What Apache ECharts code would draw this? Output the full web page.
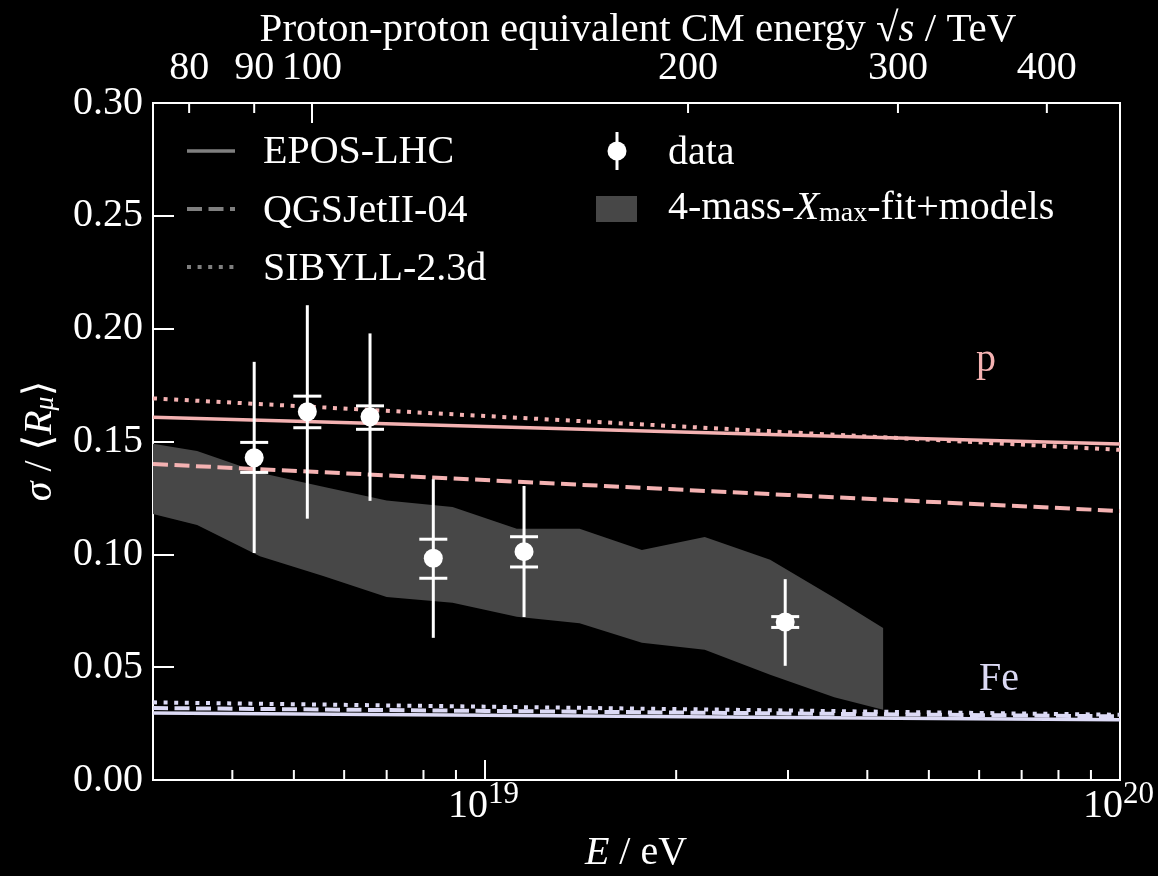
<!DOCTYPE html>
<html><head><meta charset="utf-8">
<script src="https://cdn.jsdelivr.net/npm/echarts@6/dist/echarts.min.js"></script>
<style>html,body{margin:0;padding:0;background:#000;}#c{width:1158px;height:876px;}</style>
</head><body><div id="c"></div>
<script>
const FONT = '"Liberation Serif","DejaVu Serif",serif';
const PINK = '#f4b2b2';
const LAV = '#dcdaf5';
const GREY = '#7f7f7f';

// ---- data points (energy in eV) ----
const dataE  = [4.33e18, 5.25e18, 6.59e18, 8.29e18, 1.152e19, 2.97e19];
const dataY  = [0.1428, 0.1632, 0.1610, 0.0983, 0.1012, 0.0700];
const statLo = [0.1006, 0.1158, 0.1237, 0.0630, 0.0722, 0.0506];
const statHi = [0.1853, 0.2104, 0.1979, 0.1333, 0.1303, 0.0890];
const sysLo  = [0.1363, 0.1561, 0.1554, 0.0894, 0.0944, 0.0676];
const sysHi  = [0.1496, 0.1701, 0.1658, 0.1067, 0.1078, 0.0724];

// ---- 4-mass-Xmax-fit + models band ----
const bandE  = [3.0e18, 3.52e18, 4.42e18, 5.56e18, 7.00e18, 8.89e18, 1.122e19, 1.409e19, 1.766e19, 2.218e19, 2.812e19, 3.548e19, 4.236e19];
const bandHi = [0.1490, 0.1458, 0.1362, 0.1300, 0.1238, 0.1210, 0.1113, 0.1113, 0.1019, 0.1077, 0.0976, 0.0808, 0.0674];
const bandLo = [0.1179, 0.1130, 0.0991, 0.0904, 0.0811, 0.0785, 0.0723, 0.0695, 0.0608, 0.0577, 0.0466, 0.0367, 0.0311];

// ---- model predictions (p and Fe) ----
const modelE  = [3e18, 1e19, 3e19, 1e20];
const eposP   = [0.1607, 0.1567, 0.1529, 0.1489];
const qgsP    = [0.1400, 0.1329, 0.1263, 0.1192];
const sibP    = [0.1691, 0.1613, 0.1541, 0.1463];
const eposFe  = [0.0297, 0.0287, 0.0277, 0.0267];
const qgsFe   = [0.0319, 0.0306, 0.0295, 0.0282];
const sibFe   = [0.0344, 0.0325, 0.0308, 0.0289];

// ---- axis ticks ----
const bottomMajorE = [1e19, 1e20];
const bottomMajorExp = ['19', '20'];
const bottomMinorE = [4e18, 5e18, 6e18, 7e18, 8e18, 9e18, 2e19, 3e19, 4e19, 5e19, 6e19, 7e19, 8e19, 9e19];
const topTickLabels = ['80', '90', '100', '200', '300', '400'];
const topTickE = [3.42e18, 4.33e18, 5.34e18, 2.088e19, 4.47e19, 7.67e19];
const topTickMajor = [false, false, true, false, false, false];

const chart = echarts.init(document.getElementById('c'));

function pairs(xs, ys) { return xs.map((x, i) => [x, ys[i]]); }
function modelLine(name, ys, color, type, width) {
  return {
    name, type: 'line', data: pairs(modelE, ys), symbol: 'none', silent: true, z: 3,
    lineStyle: { color, width, type, cap: 'butt', opacity: 1 }
  };
}
const DASH = [15, 6.5];
const DOT = [4, 6.6];

const tickData = [];
bottomMinorE.forEach(e => tickData.push([e, 0, 10, 0]));
bottomMajorE.forEach(e => tickData.push([e, 0, 20, 0]));
topTickE.forEach((e, i) => tickData.push([e, 0.3, topTickMajor[i] ? 20 : 10, 1]));

const option = {
  backgroundColor: '#000',
  animation: false,
  grid: { left: 153, right: 38, top: 103, bottom: 96, show: true, borderColor: '#fff', borderWidth: 2, backgroundColor: 'transparent' },
  xAxis: {
    type: 'log', logBase: 10, min: 3e18, max: 1e20,
    axisLine: { show: false }, axisTick: { show: false }, axisLabel: { show: false }, splitLine: { show: false }
  },
  yAxis: {
    type: 'value', min: 0, max: 0.3, interval: 0.05,
    axisLine: { show: false },
    axisTick: { show: true, inside: true, length: 21, lineStyle: { color: '#fff', width: 2 } },
    axisLabel: { color: '#fff', fontSize: 40, fontFamily: FONT, margin: 10, formatter: v => v.toFixed(2) },
    splitLine: { show: false }
  },
  series: [
    {
      type: 'custom', z: 1, silent: true,
      data: bandE.map((e, i) => [e, bandLo[i], bandHi[i]]),
      encode: { x: 0, y: [1, 2] },
      renderItem: (params, api) => {
        if (params.dataIndex !== 0) return;
        const pts = [];
        for (let i = 0; i < bandE.length; i++) pts.push(api.coord([bandE[i], bandHi[i]]));
        for (let i = bandE.length - 1; i >= 0; i--) pts.push(api.coord([bandE[i], bandLo[i]]));
        return { type: 'polygon', shape: { points: pts }, style: { fill: '#474747' } };
      }
    },
    modelLine('EPOS-LHC p', eposP, PINK, 'solid', 3.5),
    modelLine('QGSJetII-04 p', qgsP, PINK, DASH, 4),
    modelLine('SIBYLL-2.3d p', sibP, PINK, DOT, 4),
    modelLine('EPOS-LHC Fe', eposFe, LAV, 'solid', 3.5),
    modelLine('QGSJetII-04 Fe', qgsFe, LAV, DASH, 4),
    modelLine('SIBYLL-2.3d Fe', sibFe, LAV, DOT, 4),
    {
      type: 'custom', z: 5, silent: true,
      data: dataE.map((e, i) => [e, statLo[i], statHi[i], sysLo[i], sysHi[i]]),
      encode: { x: 0, y: [1, 2] },
      renderItem: (params, api) => {
        const e = api.value(0);
        const a = api.coord([e, api.value(1)]);
        const b = api.coord([e, api.value(2)]);
        const c = api.coord([e, api.value(3)]);
        const d = api.coord([e, api.value(4)]);
        const st = { stroke: '#fff', lineWidth: 3 };
        return {
          type: 'group', children: [
            { type: 'line', shape: { x1: a[0], y1: a[1], x2: b[0], y2: b[1] }, style: st },
            { type: 'line', shape: { x1: c[0] - 14, y1: c[1], x2: c[0] + 14, y2: c[1] }, style: st },
            { type: 'line', shape: { x1: d[0] - 14, y1: d[1], x2: d[0] + 14, y2: d[1] }, style: st }
          ]
        };
      }
    },
    {
      type: 'scatter', z: 6, silent: true, data: pairs(dataE, dataY),
      symbol: 'circle', symbolSize: 19, itemStyle: { color: '#fff', opacity: 1 }
    },
    {
      type: 'custom', z: 7, silent: true, clip: false,
      data: tickData,
      renderItem: (params, api) => {
        const p = api.coord([api.value(0), api.value(1)]);
        const len = api.value(2);
        const dir = api.value(3) === 0 ? -1 : 1;
        return { type: 'line', shape: { x1: p[0], y1: p[1], x2: p[0], y2: p[1] + dir * len }, style: { stroke: '#fff', lineWidth: 2 } };
      }
    },
    {
      type: 'custom', z: 7, silent: true, clip: false,
      data: bottomMajorE.map((e, i) => [e, 0, i]),
      renderItem: (params, api) => {
        const p = api.coord([api.value(0), 0]);
        return {
          type: 'group', children: [
            { type: 'text', x: p[0] + 3, y: p[1] + 26,
              style: { text: '10', align: 'right', verticalAlign: 'middle', fill: '#fff', fontSize: 40, fontFamily: FONT } },
            { type: 'text', x: p[0] + 3, y: p[1] + 15,
              style: { text: bottomMajorExp[api.value(2)], align: 'left', verticalAlign: 'middle', fill: '#fff', fontSize: 31, fontFamily: FONT } }
          ]
        };
      }
    },
    {
      type: 'custom', z: 7, silent: true, clip: false,
      data: topTickE.map((e, i) => [e, 0.3, i]),
      renderItem: (params, api) => {
        const p = api.coord([api.value(0), 0.3]);
        return {
          type: 'text', x: p[0], y: p[1] - 35,
          style: { text: topTickLabels[api.value(2)], align: 'center', verticalAlign: 'middle', fill: '#fff', fontSize: 40, fontFamily: FONT }
        };
      }
    }
  ],
  graphic: [
    // axis titles
    { type: 'text', x: 638, y: 30, style: {
        text: 'Proton-proton equivalent CM energy √{i|s} / TeV', align: 'center', verticalAlign: 'middle',
        fill: '#fff', fontSize: 41, fontFamily: FONT,
        rich: { i: { fontSize: 41, fontFamily: FONT, fontStyle: 'italic', fill: '#fff' } } } },
    { type: 'text', x: 636, y: 853, style: {
        text: '{i|E} / eV', align: 'center', verticalAlign: 'middle',
        fill: '#fff', fontSize: 40, fontFamily: FONT,
        rich: { i: { fontSize: 40, fontFamily: FONT, fontStyle: 'italic', fill: '#fff' } } } },
    { type: 'text', x: 40, y: 441, rotation: Math.PI / 2, style: {
        text: '{i|σ} / ⟨{i|R}{sub|μ}⟩', align: 'center', verticalAlign: 'middle',
        fill: '#fff', fontSize: 40, fontFamily: FONT,
        rich: {
          i: { fontSize: 40, fontFamily: FONT, fontStyle: 'italic', fill: '#fff', lineHeight: 40 },
          sub: { fontSize: 28, fontFamily: FONT, fontStyle: 'italic', fill: '#fff', lineHeight: 18, verticalAlign: 'bottom' }
        } } },
    // p / Fe annotations
    { type: 'text', x: 986, y: 360, style: { text: 'p', align: 'center', verticalAlign: 'middle', fill: PINK, fontSize: 40, fontFamily: FONT } },
    { type: 'text', x: 999, y: 679, style: { text: 'Fe', align: 'center', verticalAlign: 'middle', fill: LAV, fontSize: 40, fontFamily: FONT } },
    // legend left
    { type: 'line', shape: { x1: 187, y1: 151, x2: 235, y2: 151 }, style: { stroke: GREY, lineWidth: 3.5 } },
    { type: 'line', shape: { x1: 187, y1: 209, x2: 235, y2: 209 }, style: { stroke: GREY, lineWidth: 4, lineDash: DASH } },
    { type: 'line', shape: { x1: 187, y1: 267, x2: 235, y2: 267 }, style: { stroke: GREY, lineWidth: 4, lineDash: DOT } },
    { type: 'text', x: 263, y: 152, style: { text: 'EPOS-LHC', verticalAlign: 'middle', fill: '#fff', fontSize: 40, fontFamily: FONT } },
    { type: 'text', x: 263, y: 211, style: { text: 'QGSJetII-04', verticalAlign: 'middle', fill: '#fff', fontSize: 40, fontFamily: FONT } },
    { type: 'text', x: 263, y: 269, style: { text: 'SIBYLL-2.3d', verticalAlign: 'middle', fill: '#fff', fontSize: 40, fontFamily: FONT } },
    // legend right
    { type: 'line', shape: { x1: 617, y1: 132, x2: 617, y2: 170 }, style: { stroke: '#fff', lineWidth: 3 } },
    { type: 'circle', shape: { cx: 617, cy: 151, r: 9.5 }, style: { fill: '#fff' } },
    { type: 'text', x: 668, y: 153, style: { text: 'data', verticalAlign: 'middle', fill: '#fff', fontSize: 40, fontFamily: FONT } },
    { type: 'rect', shape: { x: 596, y: 196, width: 41, height: 26 }, style: { fill: '#474747' } },
    { type: 'text', x: 668, y: 208, style: {
        text: '4-mass-{i|X}{sub|max}-fit+models', verticalAlign: 'middle', fill: '#fff', fontSize: 40, fontFamily: FONT,
        rich: {
          i: { fontSize: 40, fontFamily: FONT, fontStyle: 'italic', fill: '#fff', lineHeight: 40 },
          sub: { fontSize: 28, fontFamily: FONT, fill: '#fff', lineHeight: 18, verticalAlign: 'bottom' }
        } } }
  ]
};
chart.setOption(option);
</script>
</body></html>
